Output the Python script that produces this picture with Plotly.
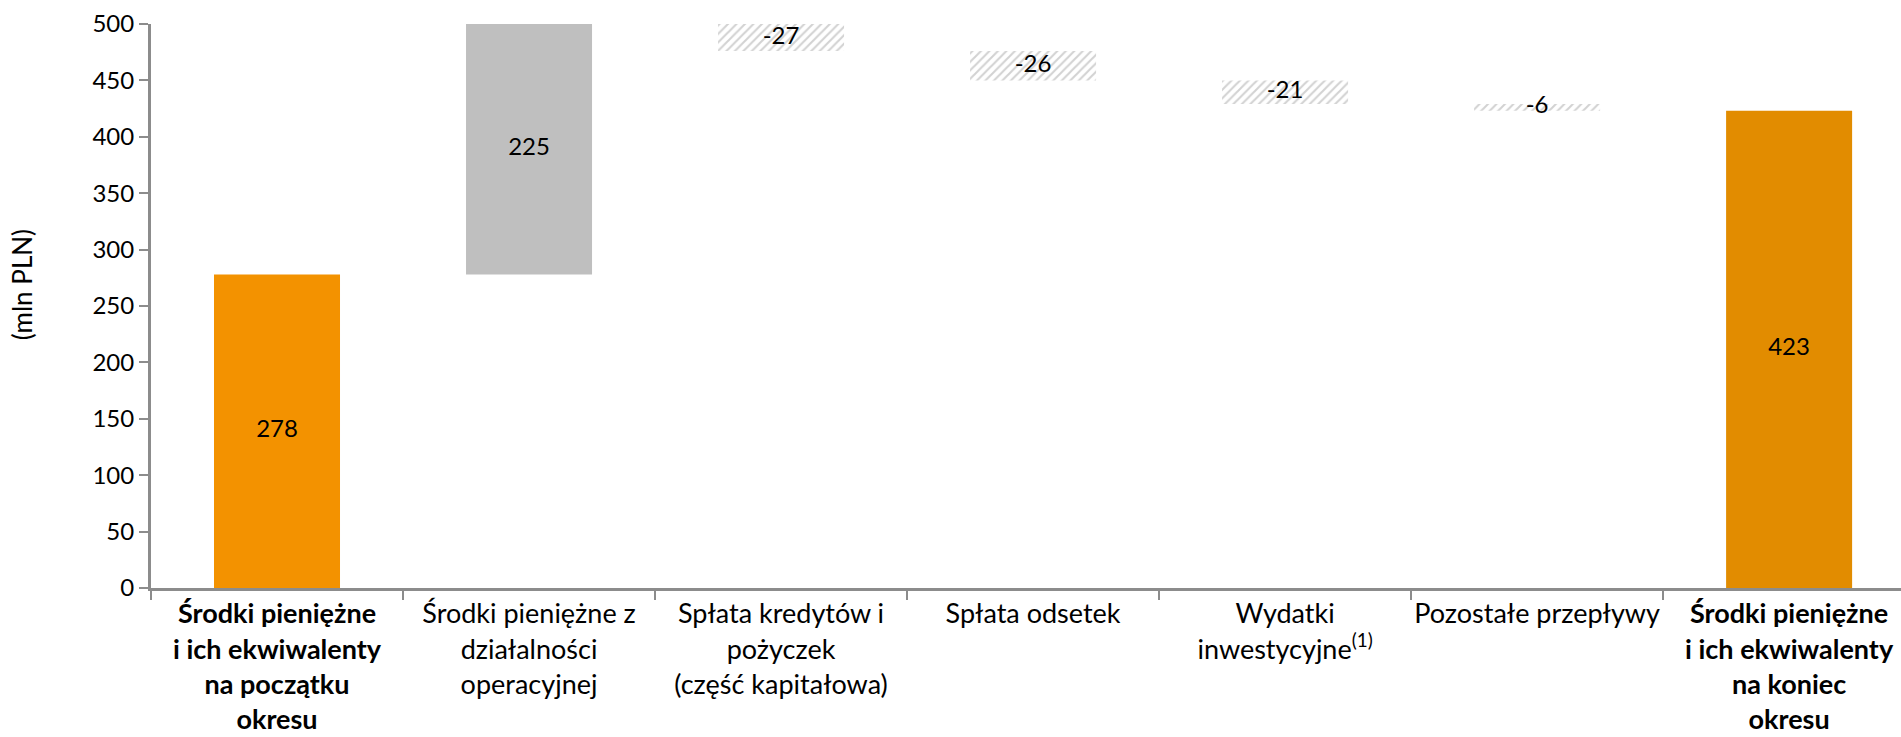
import plotly.graph_objects as go

# --- data -------------------------------------------------------------
categories = [
    "<b>Środki pieniężne<br>i ich ekwiwalenty<br>na początku<br>okresu</b>",
    "Środki pieniężne z<br>działalności<br>operacyjnej",
    "Spłata kredytów i<br>pożyczek<br>(część kapitałowa)",
    "Spłata odsetek",
    "Wydatki<br>inwestycyjne<sup>(1)</sup>",
    "Pozostałe przepływy",
    "<b>Środki pieniężne<br>i ich ekwiwalenty<br>na koniec<br>okresu</b>",
]
values = [278, 225, -27, -26, -21, -6, 423]
measures = ["total", "relative", "relative", "relative", "relative", "relative", "total"]
value_labels = ["278", "225", "-27", "-26", "-21", "-6", "423"]

y_max = 500
font_family = "Lato, 'Open Sans', Arial, sans-serif"

# running totals -> bar bottoms / tops
bottoms, tops = [], []
running = 0
for v, m in zip(values, measures):
    if m == "total":
        bottoms.append(0)
        tops.append(v)
        running = v
    else:
        start = running
        running += v
        bottoms.append(min(start, running))
        tops.append(max(start, running))

fig = go.Figure()

# totals (orange)
tot_idx = [i for i, m in enumerate(measures) if m == "total"]
fig.add_trace(go.Bar(
    x=[categories[i] for i in tot_idx],
    y=[tops[i] - bottoms[i] for i in tot_idx],
    base=[bottoms[i] for i in tot_idx],
    marker=dict(color=["#F39200", "#E28C00"], line_width=0),
    width=0.5,
    hoverinfo="skip",
))

# increases (gray)
inc_idx = [i for i, (m, v) in enumerate(zip(measures, values)) if m == "relative" and v > 0]
fig.add_trace(go.Bar(
    x=[categories[i] for i in inc_idx],
    y=[tops[i] - bottoms[i] for i in inc_idx],
    base=[bottoms[i] for i in inc_idx],
    marker=dict(color="#BFBFBF", line_width=0),
    width=0.5,
    hoverinfo="skip",
))

# decreases (hatched)
dec_idx = [i for i, (m, v) in enumerate(zip(measures, values)) if m == "relative" and v < 0]
fig.add_trace(go.Bar(
    x=[categories[i] for i in dec_idx],
    y=[tops[i] - bottoms[i] for i in dec_idx],
    base=[bottoms[i] for i in dec_idx],
    marker=dict(
        color="white",
        line_width=0,
        pattern=dict(shape="/", fgcolor="#A6A6A6", bgcolor="white", size=6, solidity=0.35),
    ),
    width=0.5,
    hoverinfo="skip",
))

# value labels centred on the visible part of each bar
label_y = [(b + min(t, y_max)) / 2 for b, t in zip(bottoms, tops)]
fig.add_trace(go.Scatter(
    x=categories,
    y=label_y,
    mode="text",
    text=value_labels,
    textposition="middle center",
    textfont=dict(family=font_family, size=24, color="black"),
    hoverinfo="skip",
    cliponaxis=False,
))

fig.update_layout(
    width=1901,
    height=737,
    barmode="overlay",
    showlegend=False,
    plot_bgcolor="white",
    paper_bgcolor="white",
    font=dict(family=font_family, size=24, color="black"),
    margin=dict(l=151, r=0, t=24, b=149),
    xaxis=dict(
        type="category",
        categoryorder="array",
        categoryarray=categories,
        range=[-0.5, 6.444],
        tickson="boundaries",
        ticks="outside",
        ticklen=9,
        tickcolor="#8C8C8C",
        tickwidth=2,
        showline=True,
        linecolor="#8C8C8C",
        linewidth=3,
        showgrid=False,
        zeroline=False,
        tickfont=dict(size=27),
        tickangle=0,
        automargin=False,
    ),
    yaxis=dict(
        range=[0, y_max],
        dtick=50,
        ticks="outside",
        ticklen=9,
        tickcolor="#8C8C8C",
        tickwidth=2,
        showline=True,
        linecolor="#8C8C8C",
        linewidth=3,
        showgrid=False,
        zeroline=False,
        tickfont=dict(size=24),
        automargin=False,
    ),
    annotations=[dict(
        text="(mln PLN)",
        xref="paper", yref="paper",
        x=0, y=0.537,
        xanchor="center", yanchor="middle",
        xshift=-129,
        textangle=-90,
        showarrow=False,
        font=dict(size=26),
    )],
)

# drop the browser's default body margin so the figure sits at the page corner
fig.write_html(
    "out.html",
    config={"displayModeBar": False},
    post_script="document.body.style.margin='0';",
)
